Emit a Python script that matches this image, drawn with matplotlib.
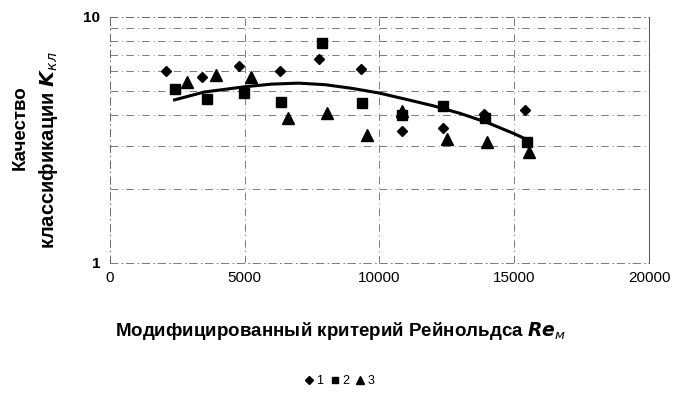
import matplotlib
matplotlib.use('Agg')
import matplotlib.pyplot as plt
from matplotlib.ticker import FixedLocator, NullFormatter

plt.rcParams['font.family'] = ['Liberation Sans', 'DejaVu Sans']

# series 1 (diamonds)
re1 = [2080, 3400, 4790, 6310, 7760, 9310, 10820, 12350, 13880, 15400]
k1 = [6.03, 5.69, 6.34, 6.03, 6.75, 6.15, 3.44, 3.53, 4.02, 4.19]
# series 2 (squares)
re2 = [2410, 3590, 4980, 6330, 7860, 9340, 10830, 12370, 13920, 15460]
k2 = [5.08, 4.63, 4.92, 4.53, 7.82, 4.46, 4.00, 4.35, 3.87, 3.11]
# series 3 (triangles)
re3 = [2870, 3920, 5230, 6620, 8040, 9530, 10850, 12490, 14000, 15550]
k3 = [5.46, 5.81, 5.69, 3.90, 4.08, 3.31, 4.15, 3.18, 3.11, 2.83]
# trend line
re_fit = [2400, 3500, 5000, 6000, 7000, 8000, 9000, 10000, 11000, 12000, 13000, 14000, 15000, 15450]
k_fit = [4.60, 4.95, 5.20, 5.33, 5.38, 5.30, 5.12, 4.90, 4.62, 4.35, 4.05, 3.72, 3.35, 3.18]

W, H = 674, 393
fig = plt.figure(figsize=(W / 100, H / 100), dpi=100)
ax = fig.add_axes([0.163, 0.331, 0.800, 0.626])

grid_kw = dict(color='0.4', linewidth=0.6, linestyle=(0, (9, 5, 1, 4)))

ax.plot(re1, k1, 'D', color='black', markersize=5.5, label='1', zorder=3)
ax.plot(re2, k2, 's', color='black', markersize=7, label='2', zorder=3)
ax.plot(re3, k3, '^', color='black', markersize=8, label='3', zorder=3)
ax.plot(re_fit, k_fit, '-', color='black', linewidth=2.2, zorder=4)

ax.set_yscale('log')
ax.set_xlim(0, 20000)
ax.set_ylim(1, 10)
ax.set_xticks([0, 5000, 10000, 15000, 20000])
ax.set_yticks([1, 10])
ax.set_yticklabels(['1', '10'])
ax.yaxis.set_minor_locator(FixedLocator([2, 3, 4, 5, 6, 7, 8, 9]))
ax.yaxis.set_minor_formatter(NullFormatter())
ax.grid(True, which='both', axis='y', **grid_kw)
ax.grid(True, which='major', axis='x', **grid_kw)
ax.tick_params(which='both', length=0, labelsize=11)
ax.tick_params(axis='x', pad=6)
ax.tick_params(axis='y', pad=7)
for lbl in ax.get_yticklabels():
    lbl.set_fontweight('bold')

for s in ax.spines.values():
    s.set_color('0.4')
    s.set_linewidth(0.6)
    s.set_linestyle((0, (9, 5, 1, 4)))
ax.spines['right'].set_linestyle('-')
ax.spines['right'].set_color('0.2')

# axis titles placed in figure pixels
fig.text(340 / W, 1 - 331 / H,
         r'Модифицированный критерий Рейнольдса $\mathbfit{Re}_{\mathit{м}}$',
         fontsize=13.5, fontweight='bold', ha='center', va='center')
fig.text(20 / W, 1 - 128 / H, 'Качество', rotation=90,
         fontsize=13.5, fontweight='bold', ha='center', va='center')
fig.text(49 / W, 1 - 150 / H, 'классификации $\\mathbfit{K}_{\\mathit{кл}}$', rotation=90,
         fontsize=14.5, fontweight='bold', ha='center', va='center')

fig.legend(loc='center', bbox_to_anchor=(340 / W, 1 - 381 / H), ncol=3, frameon=False,
           fontsize=9, handlelength=0.6, handletextpad=0.3, columnspacing=0.6,
           markerscale=0.7)

fig.savefig('out.png', dpi=100)
